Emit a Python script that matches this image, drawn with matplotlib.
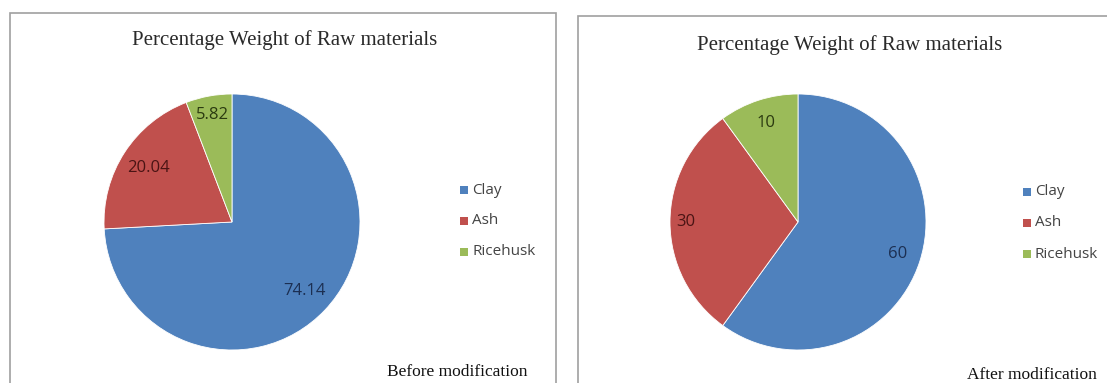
import numpy as np
import matplotlib
matplotlib.use("Agg")
import matplotlib.pyplot as plt
from matplotlib.patches import Rectangle

categories = ["Clay", "Ash", "Ricehusk"]
before_values = [74.14, 20.04, 5.82]
after_values = [60, 30, 10]
before_labels = ["74.14", "20.04", "5.82"]
after_labels = ["60", "30", "10"]
title_text = "Percentage Weight of Raw materials"
captions = ["Before modification", "After modification"]

colors = ["#4F81BD", "#C0504D", "#9BBB59"]
text_colors = ["#1c2f52", "#4a1414", "#2b3a10"]

W, H = 1107, 383
fig = plt.figure(figsize=(W / 100, H / 100), dpi=100)
fig.patch.set_facecolor("white")

def fx(px):
    return px / W

def fy(py):
    return 1 - py / H

panels = [
    dict(box=(10, 13, 556, 395), center=(232, 222), r=128, title=(285, 40),
         legend=(460, 190), caption=(457, 372), values=before_values,
         labels=before_labels, caption_text=captions[0],
         dist=[0.78, 0.78, 0.85]),
    dict(box=(578, 16, 1120, 395), center=(798, 222), r=128, title=(850, 45),
         legend=(1023, 192), caption=(1032, 375), values=after_values,
         labels=after_labels, caption_text=captions[1],
         dist=[0.82, 0.88, 0.81]),
]

for p in panels:
    x0, y0, x1, y1 = p["box"]
    fig.patches.append(Rectangle((fx(x0), fy(y1)), fx(x1 - x0), (y1 - y0) / H,
                                 transform=fig.transFigure, fill=False,
                                 edgecolor="#a0a0a0", linewidth=1.2))
    cx, cy = p["center"]
    r = p["r"]
    ax = fig.add_axes([fx(cx - r), fy(cy + r), fx(2 * r), 2 * r / H])
    wedges, _ = ax.pie(p["values"], colors=colors, startangle=90,
                       counterclock=False, radius=1.0,
                       wedgeprops=dict(edgecolor="white", linewidth=0.6))
    ax.set_xlim(-1, 1)
    ax.set_ylim(-1, 1)
    ax.set_aspect("equal")
    ax.axis("off")
    for w, lab, d, tc in zip(wedges, p["labels"], p["dist"], text_colors):
        ang = np.deg2rad((w.theta1 + w.theta2) / 2)
        ax.text(d * np.cos(ang), d * np.sin(ang), lab, ha="center", va="center",
                fontsize=12, color=tc, family="Open Sans")
    tx, ty = p["title"]
    fig.text(fx(tx), fy(ty), title_text, ha="center", va="center",
             fontsize=15, family="Liberation Serif", color="#2a2a2a")
    lx, ly = p["legend"]
    for i, (c, name) in enumerate(zip(colors, categories)):
        yy = ly + i * 31
        fig.patches.append(Rectangle((fx(lx), fy(yy + 4)), fx(8), 8 / H,
                                     transform=fig.transFigure, facecolor=c,
                                     edgecolor="none"))
        fig.text(fx(lx + 12), fy(yy), name, ha="left", va="center",
                 fontsize=11, family="Open Sans", color="#444444")
    capx, capy = p["caption"]
    fig.text(fx(capx), fy(capy), p["caption_text"], ha="center", va="center",
             fontsize=12.5, family="Liberation Serif", color="#111111")

fig.savefig("out.png", dpi=100, facecolor="white")
